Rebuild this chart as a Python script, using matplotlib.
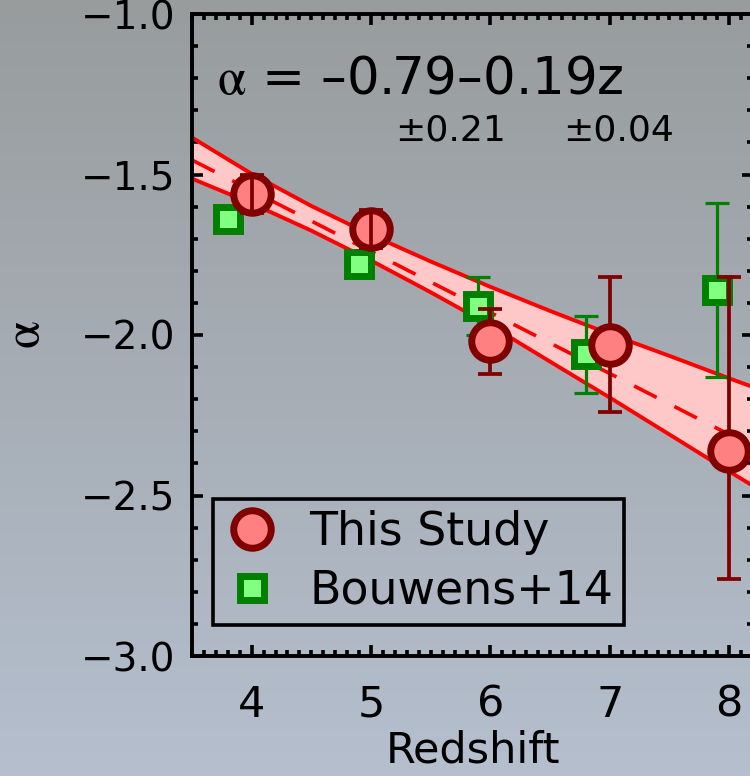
import numpy as np
import matplotlib
matplotlib.use("Agg")
import matplotlib.pyplot as plt
from matplotlib.ticker import MultipleLocator

plt.rcParams['font.family'] = ['DejaVu Sans']
plt.rcParams['mathtext.fontset'] = 'stix'

# This study (red circles)
z_this = [4, 5, 6, 7, 8]
alpha_this = [-1.56, -1.67, -2.02, -2.03, -2.36]
err_this_lo = [0.06, 0.06, 0.10, 0.21, 0.40]
err_this_hi = [0.06, 0.06, 0.10, 0.21, 0.54]

# Bouwens+14 (green squares)
z_bouw = [3.8, 4.9, 5.9, 6.8, 7.9]
alpha_bouw = [-1.64, -1.78, -1.91, -2.06, -1.86]
err_bouw = [0.03, 0.03, 0.09, 0.12, 0.27]

# fit alpha = a + b z and its confidence band edges
fit_a, fit_b = -0.79, -0.19
band_z = [3.5, 4.0, 4.5, 5.0, 5.5, 6.0, 6.5, 7.0, 7.5, 8.0, 8.2]
band_hi = [-1.385, -1.498, -1.598, -1.688, -1.771, -1.850, -1.925, -1.997, -2.065, -2.135, -2.162]
band_lo = [-1.513, -1.590, -1.675, -1.768, -1.867, -1.970, -2.083, -2.195, -2.310, -2.425, -2.470]

fig = plt.figure(figsize=(7.5, 7.76), dpi=100)

# photo-like grey/blue background
bg = fig.add_axes([0, 0, 1, 1], zorder=-10)
top = np.array([152, 156, 157]) / 255
bot = np.array([181, 191, 206]) / 255
t = np.linspace(0, 1, 256)[:, None]
grad = top[None, :] * (1 - t) + bot[None, :] * t
bg.imshow(grad[:, None, :], aspect='auto', extent=[0, 1, 0, 1])
bg.axis('off')

ax = fig.add_axes([192 / 750, 1 - 656 / 776, 561 / 750, 642 / 776])
ax.patch.set_alpha(0)

# band
zz = np.array(band_z)
ax.fill_between(zz, band_lo, band_hi, color='#ffc8c8', lw=0, zorder=1)
ax.plot(zz, band_hi, color='red', lw=2.8, zorder=2)
ax.plot(zz, band_lo, color='red', lw=2.8, zorder=2)
ax.plot(zz, fit_a + fit_b * zz, color='red', lw=2.6, ls=(0, (7, 5.5)), zorder=2)

# Bouwens+14
ax.errorbar(z_bouw, alpha_bouw, yerr=err_bouw, fmt='none', ecolor='#008000',
            elinewidth=2.3, capsize=8.5, capthick=2.3, zorder=3)
ax.plot(z_bouw, alpha_bouw, 's', ms=17, mfc='#80ff80', mec='#008000', mew=5,
        label='Bouwens+14', zorder=4)

# This study
ax.errorbar(z_this, alpha_this, yerr=[err_this_lo, err_this_hi], fmt='none',
            ecolor='#800000', elinewidth=2.7, capsize=8.5, capthick=2.7, zorder=5)
ax.plot(z_this, alpha_this, 'o', ms=27, mfc='#ff8080', mec='#800000', mew=5,
        label='This Study', zorder=6)
# small error bars show through the circles
ax.errorbar(z_this[:2], alpha_this[:2], yerr=err_this_lo[:2], fmt='none',
            ecolor='#800000', elinewidth=2.7, capsize=0, zorder=7)

ax.set_xlim(3.5, 8.2)
ax.set_ylim(-3.0, -1.0)
ax.xaxis.set_minor_locator(MultipleLocator(0.1))
ax.yaxis.set_minor_locator(MultipleLocator(0.1))
ax.set_xticks([4, 5, 6, 7, 8])
ax.set_yticks([-3.0, -2.5, -2.0, -1.5, -1.0])
ax.set_yticklabels(['\u22123.0', '\u22122.5', '\u22122.0', '\u22121.5', '\u22121.0'])

ax.tick_params(which='both', direction='in', top=True, right=True, width=2.6, color='black')
ax.tick_params(which='major', length=8)
ax.tick_params(which='minor', length=4.3)
ax.tick_params(axis='x', labelsize=31, pad=20)
ax.tick_params(axis='y', labelsize=28, pad=12)
for s in ax.spines.values():
    s.set_linewidth(2.8)

ax.set_xlabel('Redshift', fontsize=31, labelpad=3)
ax.set_ylabel(r'$\mathrm{\alpha}$', fontsize=36, labelpad=22)

ax.text(0.044, 0.897, '$\\mathrm{\\alpha}$ = \u20130.79\u20130.19z', transform=ax.transAxes,
        fontsize=37, va='center', ha='left')
ax.text(0.362, 0.819, '\u00b10.21', transform=ax.transAxes, fontsize=26, va='center', ha='left')
ax.text(0.662, 0.819, '\u00b10.04', transform=ax.transAxes, fontsize=26, va='center', ha='left')

handles, labels = ax.get_legend_handles_labels()
leg = ax.legend(handles[::-1], labels[::-1], loc='lower left', bbox_to_anchor=(0.037, 0.048),
                borderaxespad=0, fontsize=33, frameon=True, fancybox=False, framealpha=1,
                handlelength=1.2, handletextpad=0.65, borderpad=0.25, labelspacing=0.3)
leg.get_frame().set_edgecolor('black')
leg.get_frame().set_linewidth(2.6)
leg.get_frame().set_facecolor('none')

fig.savefig('out.png', dpi=100)
